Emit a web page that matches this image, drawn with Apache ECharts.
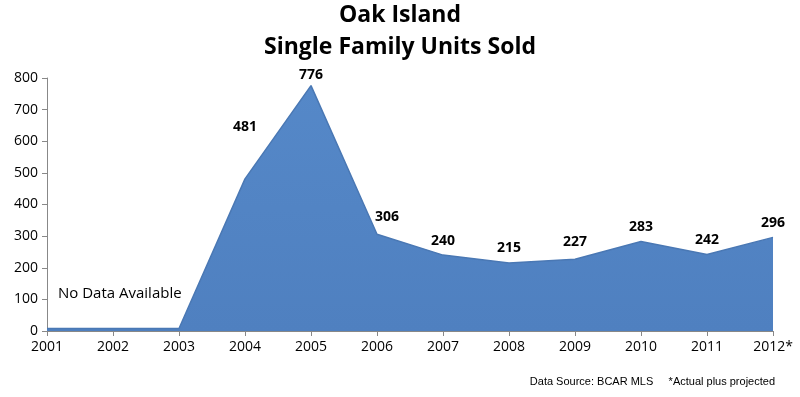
<!DOCTYPE html>
<html>
<head>
<meta charset="utf-8">
<script src="https://cdn.jsdelivr.net/npm/echarts@6/dist/echarts.min.js"></script>
<style>
  html, body { margin: 0; padding: 0; background: #fff; }
  #chart { width: 800px; height: 397px; }
</style>
</head>
<body>
<div id="chart"></div>
<script>
  var years = ['2001', '2002', '2003', '2004', '2005', '2006', '2007', '2008', '2009', '2010', '2011', '2012*']
  var unitsSold = [8, 8, 8, 481, 776, 306, 240, 215, 227, 283, 242, 296]
  // first three years have no data, so no label
  var showLabel = [false, false, false, true, true, true, true, true, true, true, true, true]

  var chart = echarts.init(document.getElementById('chart'))
  var font = 'Open Sans'

  var seriesData = unitsSold.map(function(v, i) {
    var item = {value: v, label: {show: showLabel[i]}}
    if (years[i] === '2004') {
      item.label.distance = 44
    } else if (years[i] === '2005') {
      item.label.distance = 3
    } else if (years[i] === '2006') {
      item.label.offset = [10, -3]
    } else if (years[i] === '2009') {
      item.label.distance = 10
    }
    return item
  })

  var option = {
    animation: false,
    title: {
      text: 'Oak Island\nSingle Family Units Sold',
      left: 'center',
      top: -6,
      textStyle: {
        fontFamily: font,
        fontWeight: 'bold',
        fontSize: 23,
        lineHeight: 32,
        color: '#000'
      }
    },
    grid: {
      left: 47,
      right: 27,
      top: 78,
      bottom: 66
    },
    xAxis: {
      type: 'category',
      data: years,
      boundaryGap: false,
      axisLine: {lineStyle: {color: '#888'}},
      axisTick: {show: true, length: 5, lineStyle: {color: '#888'}},
      axisLabel: {
        fontFamily: font,
        fontSize: 14,
        color: '#000',
        margin: 9,
        interval: 0
      }
    },
    yAxis: {
      type: 'value',
      min: 0,
      max: 800,
      interval: 100,
      axisLine: {show: true, lineStyle: {color: '#888'}},
      axisTick: {show: true, length: 5, lineStyle: {color: '#888'}},
      splitLine: {show: false},
      axisLabel: {
        fontFamily: font,
        fontSize: 14,
        color: '#000',
        margin: 9
      }
    },
    series: [{
      type: 'line',
      data: seriesData,
      symbol: 'circle',
      symbolSize: 1,
      showSymbol: true,
      itemStyle: {color: 'rgba(0,0,0,0)'},
      lineStyle: {color: '#4a78b4', width: 1.5},
      areaStyle: {
        color: new echarts.graphic.LinearGradient(0, 0, 0, 1, [
          {offset: 0, color: '#5588c8'},
          {offset: 1, color: '#4f80c0'}
        ]),
        opacity: 1
      },
      label: {
        show: true,
        position: 'top',
        distance: 7,
        fontFamily: font,
        fontWeight: 'bold',
        fontSize: 14,
        color: '#000'
      }
    }],
    graphic: [
      {
        type: 'text',
        left: 58,
        top: 286,
        style: {
          text: 'No Data Available',
          font: '15px "Open Sans"',
          fill: '#000'
        }
      },
      {
        type: 'text',
        right: 25,
        top: 376,
        style: {
          text: 'Data Source: BCAR MLS     *Actual plus projected',
          font: '11px "Liberation Sans"',
          fill: '#000'
        }
      }
    ]
  }
  chart.setOption(option)
</script>
</body>
</html>
